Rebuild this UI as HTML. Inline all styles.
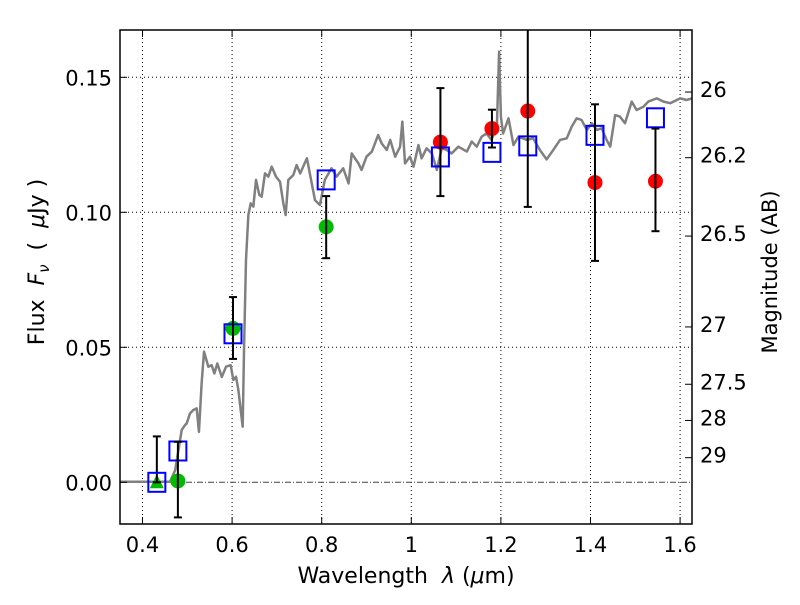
<!DOCTYPE html>
<html><head><meta charset="utf-8"><style>
body{margin:0;background:#fff}
svg text{font-family:"DejaVu Sans","Liberation Sans",sans-serif;fill:#000;white-space:pre}
</style></head><body>
<svg id="chart" width="800" height="600" xmlns="http://www.w3.org/2000/svg">
<rect width="800" height="600" fill="#fff"/>
<g id="grid"></g>
<g id="plot"></g>
<g id="axes"></g>
<text x="406" y="583" font-size="22" text-anchor="middle">Wavelength  <tspan font-style="italic">λ</tspan> (<tspan font-style="italic">μ</tspan>m)</text>
<text transform="translate(44,262) rotate(-90)" font-size="22" text-anchor="middle">Flux  <tspan font-style="italic">F</tspan><tspan font-style="italic" font-size="15" dy="5">ν</tspan><tspan dy="-5">  (  </tspan><tspan font-style="italic">μ</tspan>Jy )</text>
<text transform="translate(777,272) rotate(-90)" font-size="21" text-anchor="middle">Magnitude (AB)</text>
</svg>
<script>
const specWl=[0.35,0.4614,0.473,0.4875,0.495,0.4986,0.506,0.5135,0.521,0.526,0.532,0.5373,0.547,0.5544,0.5604,0.567,0.577,0.5864,0.5968,0.6028,0.6087,0.614,0.6236,0.6266,0.631,0.6363,0.6415,0.6474,0.6534,0.6608,0.666,0.6734,0.6809,0.6884,0.698,0.707,0.7144,0.7196,0.7255,0.7367,0.744,0.752,0.767,0.785,0.796,0.807,0.822,0.833,0.848,0.860,0.867,0.882,0.889,0.900,0.912,0.926,0.934,0.945,0.953,0.964,0.975,0.980,0.986,0.997,1.005,1.016,1.023,1.034,1.046,1.057,1.068,1.079,1.090,1.105,1.124,1.135,1.146,1.157,1.168,1.179,1.191,1.196,1.200,1.205,1.217,1.228,1.239,1.258,1.272,1.287,1.302,1.317,1.332,1.347,1.358,1.369,1.380,1.392,1.403,1.414,1.425,1.436,1.444,1.455,1.466,1.477,1.492,1.503,1.518,1.529,1.548,1.563,1.578,1.600,1.615,1.627];
const specFlux=[0.0002,0.0002,0.0045,0.0194,0.0212,0.0218,0.0255,0.0268,0.0274,0.0187,0.0367,0.0484,0.0428,0.0434,0.0403,0.044,0.039,0.0428,0.0434,0.0379,0.0391,0.0342,0.0206,0.049,0.0823,0.099,0.1033,0.1021,0.112,0.1064,0.1058,0.1144,0.1132,0.1169,0.1132,0.1113,0.1033,0.099,0.112,0.1138,0.1175,0.1144,0.12,0.1045,0.1027,0.112,0.1163,0.1132,0.1163,0.1107,0.1218,0.1181,0.1157,0.1206,0.1225,0.1286,0.1255,0.1231,0.1268,0.1206,0.1243,0.1336,0.1181,0.1206,0.1169,0.1249,0.12,0.1237,0.1218,0.1157,0.1237,0.1231,0.1218,0.1243,0.1225,0.1262,0.1243,0.128,0.1292,0.1268,0.1317,0.1595,0.1354,0.1292,0.1348,0.1249,0.128,0.1268,0.1274,0.1231,0.1196,0.1231,0.1268,0.1274,0.1317,0.1348,0.1342,0.1305,0.133,0.1305,0.1311,0.1268,0.1243,0.136,0.1354,0.133,0.141,0.1379,0.1391,0.141,0.1422,0.141,0.1404,0.1422,0.1416,0.1422];
const modelWl=[0.432,0.479,0.602,0.81,1.065,1.18,1.26,1.41,1.545];
const modelFlux=[0.0,0.0116,0.055,0.112,0.1205,0.1222,0.1246,0.1285,0.135];
const greenWl=[0.479,0.602,0.81];
const greenFlux=[0.0005,0.057,0.0946];
const greenLo=[-0.013,0.0457,0.083];
const greenHi=[0.015,0.0686,0.106];
const triWl=[0.432];
const triFlux=[0.0];
const triLo=[0.0];
const triHi=[0.017];
const redWl=[1.065,1.18,1.26,1.41,1.545];
const redFlux=[0.126,0.131,0.1375,0.111,0.1115];
const redLo=[0.106,0.124,0.102,0.082,0.093];
const redHi=[0.146,0.138,0.175,0.140,0.131];
const xTicks=[0.4,0.6,0.8,1.0,1.2,1.4,1.6];
const xTickLabels=["0.4","0.6","0.8","1","1.2","1.4","1.6"];
const yTicks=[0,0.05,0.10,0.15];
const yTickLabels=["0.00","0.05","0.10","0.15"];
const magTicks=[26,26.2,26.5,27,27.5,28,29];
const magLabels=["26","26.2","26.5","27","27.5","28","29"];

const L=120,R=692,T=30,B=524;
const X=v=>142.5+(v-0.4)*448;
const Y=v=>482.3-v*2700;
const NS="http://www.w3.org/2000/svg";
function mk(tag,attrs,parent){const e=document.createElementNS(NS,tag);for(const k in attrs)e.setAttribute(k,attrs[k]);parent.appendChild(e);return e;}
const grid=document.getElementById('grid'),plot=document.getElementById('plot'),axes=document.getElementById('axes');

xTicks.forEach((t,i)=>{
  const g=mk('line',{x1:X(t),x2:X(t),y1:T,y2:B,stroke:'#000','stroke-width':1,'stroke-dasharray':'1,3'},grid);
  
  
  const tk=mk('line',{x1:X(t),x2:X(t),y1:B,y2:B-7,stroke:'#000','stroke-width':1},axes);
  
  
  const tk2=mk('line',{x1:X(t),x2:X(t),y1:T,y2:T+7,stroke:'#000','stroke-width':1},axes);
  
  
  const tx=mk('text',{x:X(t),y:B+28,'font-size':21,'text-anchor':'middle'},axes);
  tx.textContent=xTickLabels[i];
  
  
});
yTicks.forEach((t,i)=>{
  if(t!==0){const g=mk('line',{x1:L,x2:R,y1:Y(t),y2:Y(t),stroke:'#000','stroke-width':1,'stroke-dasharray':'1,3'},grid);
  
  }
  const tk=mk('line',{x1:L,x2:L+7,y1:Y(t),y2:Y(t),stroke:'#000','stroke-width':1},axes);
  
  
  const tx=mk('text',{x:L-8,y:Y(t)+8,'font-size':21,'text-anchor':'end'},axes);
  tx.textContent=yTickLabels[i];
  
  
});
magTicks.forEach((m,i)=>{
  const f=Math.pow(10,(23.9-m)/2.5);
  const tk=mk('line',{x1:R,x2:R-7,y1:Y(f),y2:Y(f),stroke:'#000','stroke-width':1},axes);
  
  
  const tx=mk('text',{x:R+8,y:Y(f)+5,'font-size':21,'text-anchor':'start'},axes);
  tx.textContent=magLabels[i];
  
  
});
const zl=mk('line',{x1:L,x2:R,y1:Y(0),y2:Y(0),stroke:'#444','stroke-width':1,'stroke-dasharray':'6,2,1,2'},grid);



const cp=mk('clipPath',{id:'clip'},plot);mk('rect',{x:L,y:T,width:R-L,height:B-T},cp);
const pg=mk('g',{'clip-path':'url(#clip)'},plot);
const sp=mk('polyline',{points:specWl.map((w,i)=>X(w)+','+Y(specFlux[i])).join(' '),fill:'none',stroke:'#808080','stroke-width':2.5,'stroke-linejoin':'round'},pg);



function errbar(x,lo,hi,name){
  const g=mk('g',{stroke:'#000','stroke-width':2},pg);
  
  
  mk('line',{x1:X(x),x2:X(x),y1:Y(lo),y2:Y(hi)},g);
  mk('line',{x1:X(x)-4,x2:X(x)+4,y1:Y(lo),y2:Y(lo)},g);
  mk('line',{x1:X(x)-4,x2:X(x)+4,y1:Y(hi),y2:Y(hi)},g);
}
triWl.forEach((w,i)=>{
  const p=mk('polygon',{points:`${X(w)},${Y(triFlux[i])-8} ${X(w)-7},${Y(triFlux[i])+6} ${X(w)+7},${Y(triFlux[i])+6}`,fill:'#00bb00'},pg);
  
  
  errbar(w,triLo[i],triHi[i],'triangle-error-bar');
});
greenWl.forEach((w,i)=>{
  const c=mk('circle',{cx:X(w),cy:Y(greenFlux[i]),r:7.5,fill:'#00bb00'},pg);
  
  
});
redWl.forEach((w,i)=>{
  const c=mk('circle',{cx:X(w),cy:Y(redFlux[i]),r:7.5,fill:'#ff0000'},pg);
  
  
});
modelWl.forEach((w,i)=>{
  const s=mk('rect',{x:X(w)-8.5,y:Y(modelFlux[i])-9.5,width:17,height:19,fill:'none',stroke:'#0000ff','stroke-width':2},pg);
  
  
});
greenWl.forEach((w,i)=>errbar(w,greenLo[i],greenHi[i],'green-error-bar'));
redWl.forEach((w,i)=>errbar(w,redLo[i],redHi[i],'red-error-bar'));

const fr=mk('rect',{x:L,y:T,width:R-L,height:B-T,fill:'none',stroke:'#000','stroke-width':1.5},axes);


</script>
</body></html>
